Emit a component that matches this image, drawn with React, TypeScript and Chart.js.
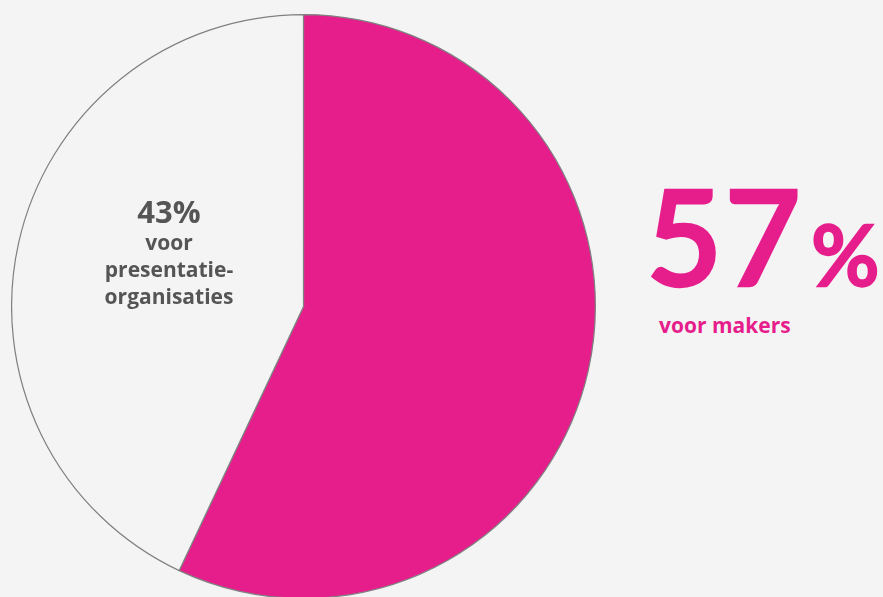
import React, { useEffect, useRef } from "react";
import { Chart, registerables } from "chart.js";

Chart.register(...registerables);

const categories = ["voor makers", "voor presentatie-organisaties"];
const values = [57, 43];
const colors = ["#E61E8C", "#F4F4F4"];

export default function App() {
  const ref = useRef<HTMLCanvasElement | null>(null);
  useEffect(() => {
    if (!ref.current) return;
    const chart = new Chart(ref.current, {
      type: "pie",
      data: {
        labels: categories,
        datasets: [
          {
            data: values,
            backgroundColor: colors,
            borderColor: "#808080",
            borderWidth: 1.2,
          },
        ],
      },
      options: {
        responsive: false,
        animation: false,
        plugins: { legend: { display: false }, tooltip: { enabled: false } },
        layout: { padding: 0 },
      },
    });
    return () => chart.destroy();
  }, []);

  return (
    <div
      style={{
        position: "fixed",
        left: 0,
        top: 0,
        width: 883,
        height: 597,
        background: "#F4F4F4",
        overflow: "hidden",
        fontFamily: "'Open Sans', Lato, sans-serif",
      }}
    >
      <canvas
        ref={ref}
        width={585}
        height={585}
        style={{ position: "absolute", left: 11, top: 14, width: 585, height: 585 }}
      />
      <div
        style={{
          position: "absolute",
          left: 69,
          top: 193,
          width: 200,
          textAlign: "center",
          color: "#555555",
          fontWeight: 700,
        }}
      >
        <div style={{ fontSize: 31, lineHeight: "36px" }}>43%</div>
        <div style={{ fontSize: 21, lineHeight: "27px" }}>voor</div>
        <div style={{ fontSize: 21, lineHeight: "27px" }}>presentatie-</div>
        <div style={{ fontSize: 21, lineHeight: "27px" }}>organisaties</div>
      </div>
      <div
        style={{
          position: "absolute",
          left: 646,
          top: 160,
          color: "#E61E8C",
          whiteSpace: "nowrap",
          fontWeight: 600,
          fontFamily: "Lato, sans-serif",
          WebkitTextStroke: "2.5px #E61E8C",
        }}
      >
        <span style={{ fontSize: 132, lineHeight: "150px", letterSpacing: 2 }}>57</span>
        <span style={{ fontSize: 84, marginLeft: 8 }}>%</span>
      </div>
      <div
        style={{
          position: "absolute",
          left: 659,
          top: 311,
          color: "#E61E8C",
          fontSize: 21,
          fontWeight: 700,
          whiteSpace: "nowrap",
        }}
      >
        voor makers
      </div>
    </div>
  );
}
